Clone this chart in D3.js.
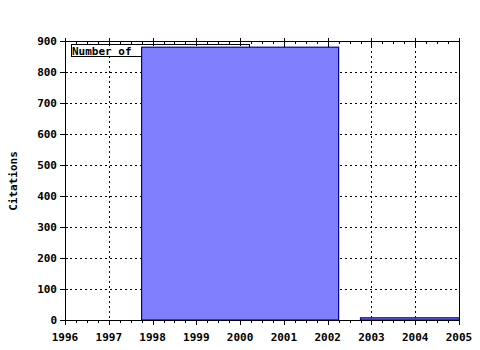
<!DOCTYPE html>
<html lang="en">
<head>
  <meta charset="UTF-8" />
  <title>Citations</title>
  <script src="https://d3js.org/d3.v7.min.js"></script>
  <style>
    body { margin: 0; background: #fff; }
    svg { display: block; }
    text { font-family: "DejaVu Sans Mono", monospace; font-size: 11px; font-weight: bold; fill: #000; }
  </style>
</head>
<body>
  <svg id="chart" width="480" height="350"></svg>
  <script>
    // bins: centre year, citations
    const binYears = [2000, 2005];
    const citations = [880, 7];
    const binWidth = 4.5;
    const yearTicks = [1996, 1997, 1998, 1999, 2000, 2001, 2002, 2003, 2004, 2005];
    const citeTicks = [0, 100, 200, 300, 400, 500, 600, 700, 800, 900];
    const legendLabel = "Number of";

    const mLeft = 65, mRight = 459, mTop = 41, mBottom = 320;
    const svg = d3.select("#chart");

    const x = d3.scaleLinear().domain([1996, 2005]).range([mLeft, mRight]);
    const y = d3.scaleLinear().domain([0, 900]).range([mBottom, mTop]);
    const px = v => Math.round(v) + 0.5;

    // grid
    svg.append("g").selectAll("line")
      .data(yearTicks.slice(1, -1))
      .join("line")
      .attr("x1", d => px(x(d))).attr("x2", d => px(x(d)))
      .attr("y1", mTop).attr("y2", mBottom)
      .attr("stroke", "#000").attr("stroke-dasharray", "2,3");
    svg.append("g").selectAll("line")
      .data(citeTicks.slice(1, -1))
      .join("line")
      .attr("x1", mLeft).attr("x2", mRight)
      .attr("y1", d => px(y(d))).attr("y2", d => px(y(d)))
      .attr("stroke", "#000").attr("stroke-dasharray", "2,3");

    // legend (sits under the bars)
    const lg = svg.append("g");
    lg.append("rect").attr("x", 71.5).attr("y", 44.5).attr("width", 178).attr("height", 12)
      .attr("fill", "#fff").attr("stroke", "#000");
    lg.append("text").attr("x", 72).attr("y", 55).text(legendLabel);

    // bars
    svg.append("clipPath").attr("id", "plot")
      .append("rect").attr("x", mLeft).attr("y", mTop).attr("width", mRight - mLeft).attr("height", mBottom - mTop);
    svg.append("g").attr("clip-path", "url(#plot)")
      .selectAll("rect")
      .data(binYears.map((d, i) => ({ year: d, value: citations[i] })))
      .join("rect")
      .attr("x", d => x(d.year - binWidth / 2))
      .attr("width", d => x(d.year + binWidth / 2) - x(d.year - binWidth / 2))
      .attr("y", d => y(d.value))
      .attr("height", d => y(0) - y(d.value))
      .attr("fill", "#8080ff")
      .attr("stroke", "#0000a0")
      .attr("stroke-width", 1.2);

    // frame
    svg.append("rect").attr("x", mLeft + 0.5).attr("y", mTop + 0.5)
      .attr("width", mRight - mLeft).attr("height", mBottom - mTop)
      .attr("fill", "none").attr("stroke", "#000");

    // x axis
    const minor = d3.range(1996, 2005.01, 0.25);
    const xg = svg.append("g");
    xg.selectAll(".mj").data(yearTicks).join("line").attr("class", "mj")
      .attr("x1", d => px(x(d))).attr("x2", d => px(x(d)))
      .attr("y1", mBottom).attr("y2", mBottom + 5).attr("stroke", "#000");
    xg.selectAll(".mt").data(yearTicks).join("line").attr("class", "mt")
      .attr("x1", d => px(x(d))).attr("x2", d => px(x(d)))
      .attr("y1", mTop - 3).attr("y2", mTop + 5).attr("stroke", "#000");
    xg.selectAll(".mn").data(minor).join("line").attr("class", "mn")
      .attr("x1", d => px(x(d))).attr("x2", d => px(x(d)))
      .attr("y1", mBottom + 0.5).attr("y2", mBottom + 3).attr("stroke", "#000");
    xg.selectAll(".mnt").data(minor).join("line").attr("class", "mnt")
      .attr("x1", d => px(x(d))).attr("x2", d => px(x(d)))
      .attr("y1", mTop + 0.5).attr("y2", mTop + 3).attr("stroke", "#000");
    xg.selectAll("text").data(yearTicks).join("text")
      .attr("x", d => x(d)).attr("y", 341)
      .attr("text-anchor", "middle")
      .text(d => d);

    // y axis
    const yg = svg.append("g");
    yg.selectAll("line").data(citeTicks).join("line")
      .attr("x1", mLeft - 5).attr("x2", mLeft + 3)
      .attr("y1", d => px(y(d))).attr("y2", d => px(y(d)))
      .attr("stroke", "#000");
    yg.selectAll("text").data(citeTicks).join("text")
      .attr("x", mLeft - 8).attr("y", d => y(d) + 4)
      .attr("text-anchor", "end")
      .text(d => d);

    svg.append("text")
      .attr("transform", "translate(17,181) rotate(-90)")
      .attr("text-anchor", "middle")
      .text("Citations");
  </script>
</body>
</html>
